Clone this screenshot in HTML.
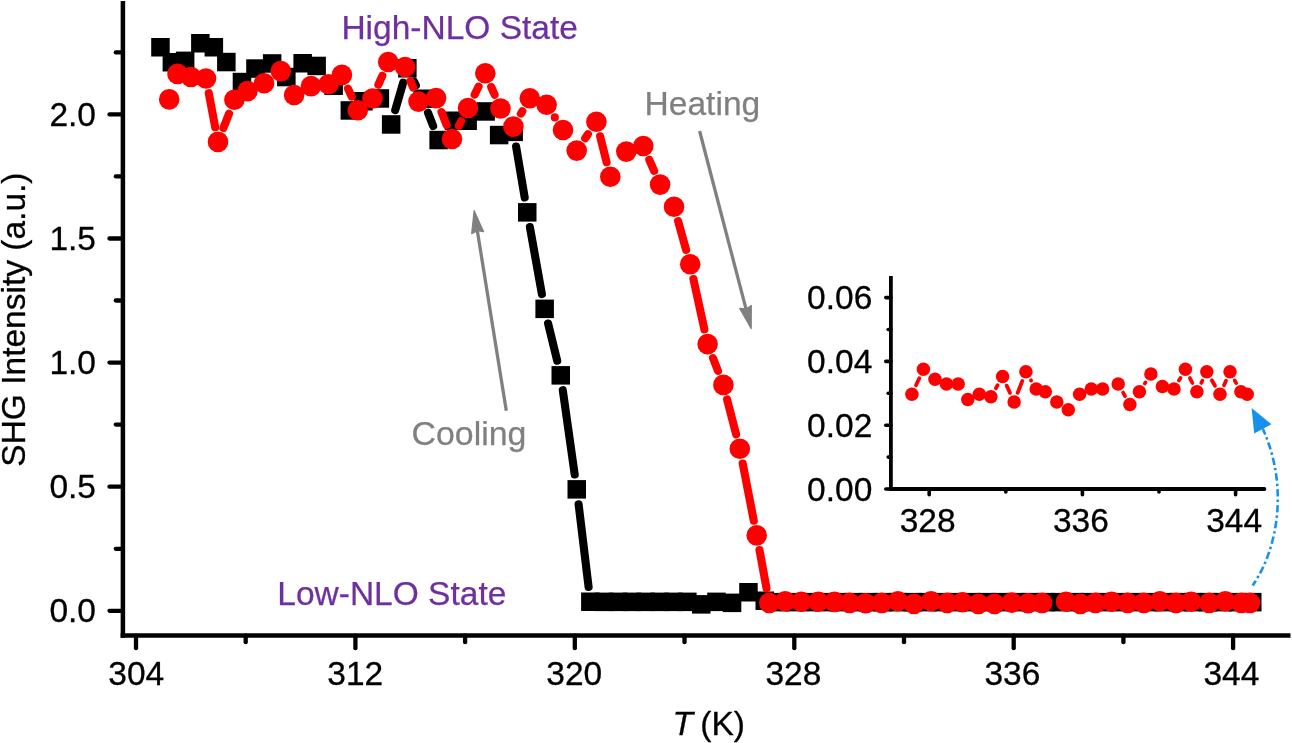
<!DOCTYPE html>
<html><head><meta charset="utf-8"><title>SHG Intensity vs T</title>
<style>html,body{margin:0;padding:0;background:#fff;}body{width:1292px;height:743px;overflow:hidden;font-family:"Liberation Sans", sans-serif;}svg{display:block;will-change:transform}</style>
</head><body>
<svg width="1292" height="743" viewBox="0 0 1292 743">
<rect width="1292" height="743" fill="#fff"/>
<g stroke="#000" stroke-width="4.5" fill="none">
<line x1="122.9" y1="1" x2="122.9" y2="637.85"/>
<line x1="120.65" y1="635.6" x2="1290.5" y2="635.6"/>
</g>
<g stroke="#000" stroke-width="4.3" stroke-linecap="round">
<line x1="109.5" y1="610.8" x2="122.9" y2="610.8"/>
<line x1="109.5" y1="486.7" x2="122.9" y2="486.7"/>
<line x1="109.5" y1="362.6" x2="122.9" y2="362.6"/>
<line x1="109.5" y1="238.5" x2="122.9" y2="238.5"/>
<line x1="109.5" y1="114.4" x2="122.9" y2="114.4"/>
<line x1="115.8" y1="548.8" x2="122.9" y2="548.8"/>
<line x1="115.8" y1="424.6" x2="122.9" y2="424.6"/>
<line x1="115.8" y1="300.5" x2="122.9" y2="300.5"/>
<line x1="115.8" y1="176.4" x2="122.9" y2="176.4"/>
<line x1="115.8" y1="52.4" x2="122.9" y2="52.4"/>
<line x1="136.0" y1="635.6" x2="136.0" y2="648.2"/>
<line x1="355.4" y1="635.6" x2="355.4" y2="648.2"/>
<line x1="574.8" y1="635.6" x2="574.8" y2="648.2"/>
<line x1="794.3" y1="635.6" x2="794.3" y2="648.2"/>
<line x1="1013.7" y1="635.6" x2="1013.7" y2="648.2"/>
<line x1="1233.1" y1="635.6" x2="1233.1" y2="648.2"/>
<line x1="245.7" y1="635.6" x2="245.7" y2="642.2"/>
<line x1="465.1" y1="635.6" x2="465.1" y2="642.2"/>
<line x1="684.5" y1="635.6" x2="684.5" y2="642.2"/>
<line x1="904.0" y1="635.6" x2="904.0" y2="642.2"/>
<line x1="1123.4" y1="635.6" x2="1123.4" y2="642.2"/>
</g>
<g font-family='"Liberation Sans", sans-serif' font-size="33.5" fill="#000" stroke="#000" stroke-width="0.3">
<text x="96" y="622.2" text-anchor="end">0.0</text>
<text x="96" y="498.1" text-anchor="end">0.5</text>
<text x="96" y="374.0" text-anchor="end">1.0</text>
<text x="96" y="249.9" text-anchor="end">1.5</text>
<text x="96" y="125.8" text-anchor="end">2.0</text>
<text x="136.3" y="685.4" text-anchor="middle">304</text>
<text x="355.3" y="685.4" text-anchor="middle">312</text>
<text x="574.3" y="685.4" text-anchor="middle">320</text>
<text x="793.4" y="685.4" text-anchor="middle">328</text>
<text x="1012.4" y="685.4" text-anchor="middle">336</text>
<text x="1231.4" y="685.4" text-anchor="middle">344</text>
<text x="672.6" y="734.8"><tspan font-style="italic">T</tspan><tspan dx="7.2">(K)</tspan></text>
<text transform="translate(25.0,319.6) rotate(-90)" text-anchor="middle">SHG Intensity (a.u.)</text>
</g>
<g font-family='"Liberation Sans", sans-serif' font-size="33.5" stroke-width="0.25">
<text x="341.4" y="38.7" fill="#6f2fa0" stroke="#6f2fa0">High-NLO State</text>
<text x="277.3" y="604.8" fill="#6f2fa0" stroke="#6f2fa0">Low-NLO State</text>
<text x="644.6" y="114.9" fill="#808080" stroke="#808080" textLength="115.6" lengthAdjust="spacingAndGlyphs">Heating</text>
<text x="411.6" y="444.7" fill="#808080" stroke="#808080" textLength="114.8" lengthAdjust="spacingAndGlyphs">Cooling</text>
</g>
<line x1="506.3" y1="410.8" x2="477.3" y2="230.6" stroke="#808080" stroke-width="3.3"/><polygon points="474.1,210.5 483.6,231.7 477.3,230.6 471.7,233.6" fill="#808080" stroke="#808080" stroke-width="1.2" stroke-linejoin="round"/>
<line x1="699.6" y1="131.0" x2="746.0" y2="308.9" stroke="#808080" stroke-width="3.3"/><polygon points="751.2,328.6 739.7,308.4 746.0,308.9 751.3,305.4" fill="#808080" stroke="#808080" stroke-width="1.2" stroke-linejoin="round"/>
<g stroke="#000" stroke-width="8.1" stroke-linecap="round"><line x1="395.2" y1="110.1" x2="403.2" y2="82.6"/><line x1="414.0" y1="81.6" x2="415.9" y2="85.3"/><line x1="428.0" y1="112.7" x2="433.2" y2="126.0"/><line x1="516.1" y1="146.6" x2="524.7" y2="197.5"/><line x1="529.9" y1="227.1" x2="541.9" y2="294.1"/><line x1="548.1" y1="323.5" x2="557.2" y2="360.7"/><line x1="562.8" y1="390.2" x2="574.7" y2="474.5"/><line x1="578.6" y1="504.3" x2="588.6" y2="586.9"/></g>
<g fill="#000"><rect x="151.2" y="38.0" width="18.5" height="18.5"/><rect x="162.6" y="53.0" width="18.5" height="18.5"/><rect x="175.9" y="51.6" width="18.5" height="18.5"/><rect x="191.1" y="34.0" width="18.5" height="18.5"/><rect x="204.6" y="38.0" width="18.5" height="18.5"/><rect x="217.1" y="52.8" width="18.5" height="18.5"/><rect x="232.7" y="72.8" width="18.5" height="18.5"/><rect x="246.2" y="59.3" width="18.5" height="18.5"/><rect x="262.9" y="54.2" width="18.5" height="18.5"/><rect x="277.1" y="67.8" width="18.5" height="18.5"/><rect x="293.4" y="54.0" width="18.5" height="18.5"/><rect x="307.4" y="56.7" width="18.5" height="18.5"/><rect x="324.4" y="76.5" width="18.5" height="18.5"/><rect x="340.6" y="101.2" width="18.5" height="18.5"/><rect x="354.2" y="92.0" width="18.5" height="18.5"/><rect x="370.6" y="89.2" width="18.5" height="18.5"/><rect x="381.9" y="115.2" width="18.5" height="18.5"/><rect x="398.1" y="59.0" width="18.5" height="18.5"/><rect x="413.4" y="89.5" width="18.5" height="18.5"/><rect x="429.4" y="130.8" width="18.5" height="18.5"/><rect x="444.8" y="111.5" width="18.5" height="18.5"/><rect x="458.4" y="111.5" width="18.5" height="18.5"/><rect x="476.4" y="102.2" width="18.5" height="18.5"/><rect x="489.9" y="125.8" width="18.5" height="18.5"/><rect x="504.4" y="122.6" width="18.5" height="18.5"/><rect x="518.0" y="203.1" width="18.5" height="18.5"/><rect x="535.4" y="299.6" width="18.5" height="18.5"/><rect x="551.5" y="366.1" width="18.5" height="18.5"/><rect x="567.5" y="480.1" width="18.5" height="18.5"/><rect x="581.1" y="592.5" width="18.5" height="18.5"/></g>
<g fill="#000"><rect x="595.0" y="592.6" width="18.5" height="18.5"/><rect x="608.9" y="592.6" width="18.5" height="18.5"/><rect x="622.7" y="592.6" width="18.5" height="18.5"/><rect x="636.5" y="592.6" width="18.5" height="18.5"/><rect x="650.4" y="592.6" width="18.5" height="18.5"/><rect x="664.2" y="592.6" width="18.5" height="18.5"/><rect x="678.1" y="592.6" width="18.5" height="18.5"/><rect x="692.0" y="595.1" width="18.5" height="18.5"/><rect x="707.2" y="592.6" width="18.5" height="18.5"/><rect x="722.8" y="593.6" width="18.5" height="18.5"/><rect x="739.2" y="583.0" width="18.5" height="18.5"/><rect x="755.5" y="591.5" width="18.5" height="18.5"/><rect x="770.3" y="592.9" width="18.5" height="18.5"/><rect x="785.1" y="592.9" width="18.5" height="18.5"/><rect x="799.9" y="592.9" width="18.5" height="18.5"/><rect x="814.6" y="592.9" width="18.5" height="18.5"/><rect x="829.4" y="592.9" width="18.5" height="18.5"/><rect x="844.2" y="592.9" width="18.5" height="18.5"/><rect x="859.0" y="592.9" width="18.5" height="18.5"/><rect x="873.7" y="592.9" width="18.5" height="18.5"/><rect x="888.5" y="592.9" width="18.5" height="18.5"/><rect x="903.3" y="592.9" width="18.5" height="18.5"/><rect x="918.0" y="592.9" width="18.5" height="18.5"/><rect x="932.8" y="592.9" width="18.5" height="18.5"/><rect x="947.6" y="592.9" width="18.5" height="18.5"/><rect x="962.4" y="592.9" width="18.5" height="18.5"/><rect x="977.1" y="592.9" width="18.5" height="18.5"/><rect x="991.9" y="592.9" width="18.5" height="18.5"/><rect x="1006.7" y="592.9" width="18.5" height="18.5"/><rect x="1021.5" y="592.9" width="18.5" height="18.5"/><rect x="1036.2" y="592.9" width="18.5" height="18.5"/><rect x="1051.0" y="592.9" width="18.5" height="18.5"/><rect x="1065.8" y="592.9" width="18.5" height="18.5"/><rect x="1080.5" y="592.9" width="18.5" height="18.5"/><rect x="1095.3" y="592.9" width="18.5" height="18.5"/><rect x="1110.1" y="592.9" width="18.5" height="18.5"/><rect x="1124.9" y="592.9" width="18.5" height="18.5"/><rect x="1139.6" y="592.9" width="18.5" height="18.5"/><rect x="1154.4" y="592.9" width="18.5" height="18.5"/><rect x="1169.2" y="592.9" width="18.5" height="18.5"/><rect x="1184.0" y="592.9" width="18.5" height="18.5"/><rect x="1198.7" y="592.9" width="18.5" height="18.5"/><rect x="1213.5" y="592.9" width="18.5" height="18.5"/><rect x="1228.3" y="592.9" width="18.5" height="18.5"/><rect x="1243.0" y="592.9" width="18.5" height="18.5"/></g>
<g stroke="#ff0000" stroke-width="8.1" stroke-linecap="round"><line x1="208.8" y1="93.2" x2="215.2" y2="127.2"/><line x1="223.4" y1="127.9" x2="229.0" y2="113.8"/><line x1="348.0" y1="88.6" x2="351.7" y2="96.6"/><line x1="378.4" y1="84.7" x2="382.3" y2="75.8"/><line x1="410.5" y1="81.0" x2="413.1" y2="87.6"/><line x1="441.5" y1="112.1" x2="446.6" y2="125.0"/><line x1="458.9" y1="125.7" x2="461.1" y2="121.3"/><line x1="474.7" y1="94.6" x2="478.6" y2="86.6"/><line x1="491.2" y1="87.0" x2="494.6" y2="94.7"/><line x1="520.9" y1="113.6" x2="522.3" y2="111.3"/><line x1="554.8" y1="117.4" x2="554.8" y2="117.4"/><line x1="585.2" y1="138.2" x2="587.9" y2="134.2"/><line x1="600.1" y1="136.3" x2="606.6" y2="162.2"/><line x1="649.3" y1="159.8" x2="654.1" y2="170.8"/><line x1="678.1" y1="221.2" x2="686.1" y2="249.9"/><line x1="693.4" y1="279.0" x2="704.4" y2="329.4"/><line x1="713.0" y1="358.1" x2="718.0" y2="370.9"/><line x1="727.1" y1="399.4" x2="736.1" y2="434.3"/><line x1="742.7" y1="463.5" x2="753.8" y2="520.7"/><line x1="759.5" y1="550.1" x2="766.5" y2="588.2"/></g>
<g fill="#ff0000"><circle cx="169.2" cy="99.4" r="10.3"/><circle cx="177.5" cy="73.9" r="10.3"/><circle cx="191.0" cy="77.0" r="10.3"/><circle cx="206.0" cy="78.5" r="10.3"/><circle cx="218.0" cy="141.9" r="10.3"/><circle cx="234.4" cy="99.8" r="10.3"/><circle cx="247.5" cy="91.1" r="10.3"/><circle cx="264.1" cy="83.2" r="10.3"/><circle cx="280.8" cy="71.1" r="10.3"/><circle cx="294.1" cy="95.0" r="10.3"/><circle cx="311.0" cy="86.1" r="10.3"/><circle cx="328.5" cy="84.3" r="10.3"/><circle cx="341.9" cy="74.9" r="10.3"/><circle cx="357.8" cy="110.3" r="10.3"/><circle cx="372.5" cy="98.5" r="10.3"/><circle cx="388.2" cy="62.0" r="10.3"/><circle cx="405.1" cy="67.0" r="10.3"/><circle cx="418.5" cy="101.6" r="10.3"/><circle cx="436.1" cy="98.1" r="10.3"/><circle cx="452.0" cy="139.0" r="10.3"/><circle cx="468.0" cy="108.0" r="10.3"/><circle cx="485.3" cy="73.2" r="10.3"/><circle cx="500.5" cy="108.5" r="10.3"/><circle cx="513.4" cy="126.6" r="10.3"/><circle cx="529.8" cy="98.3" r="10.3"/><circle cx="546.6" cy="104.8" r="10.3"/><circle cx="563.0" cy="130.0" r="10.3"/><circle cx="576.7" cy="150.6" r="10.3"/><circle cx="596.4" cy="121.8" r="10.3"/><circle cx="610.3" cy="176.7" r="10.3"/><circle cx="626.3" cy="151.6" r="10.3"/><circle cx="643.3" cy="146.0" r="10.3"/><circle cx="660.1" cy="184.6" r="10.3"/><circle cx="674.0" cy="206.8" r="10.3"/><circle cx="690.2" cy="264.3" r="10.3"/><circle cx="707.6" cy="344.1" r="10.3"/><circle cx="723.4" cy="384.9" r="10.3"/><circle cx="739.8" cy="448.8" r="10.3"/><circle cx="756.7" cy="535.4" r="10.3"/><circle cx="769.3" cy="602.9" r="10.3"/></g>
<g fill="#ff0000"><circle cx="785.2" cy="601.3" r="10.3"/><circle cx="801.3" cy="601.7" r="10.3"/><circle cx="818.4" cy="601.7" r="10.3"/><circle cx="834.5" cy="601.9" r="10.3"/><circle cx="849.6" cy="602.9" r="10.3"/><circle cx="865.7" cy="603.3" r="10.3"/><circle cx="881.8" cy="602.9" r="10.3"/><circle cx="897.9" cy="601.3" r="10.3"/><circle cx="914.0" cy="603.9" r="10.3"/><circle cx="931.1" cy="601.3" r="10.3"/><circle cx="947.2" cy="602.9" r="10.3"/><circle cx="962.3" cy="602.3" r="10.3"/><circle cx="978.4" cy="603.9" r="10.3"/><circle cx="994.5" cy="603.9" r="10.3"/><circle cx="1011.8" cy="602.6" r="10.3"/><circle cx="1028.1" cy="603.3" r="10.3"/><circle cx="1042.1" cy="602.9" r="10.3"/><circle cx="1066.0" cy="601.7" r="10.3"/><circle cx="1080.4" cy="603.9" r="10.3"/><circle cx="1095.5" cy="602.9" r="10.3"/><circle cx="1111.6" cy="601.7" r="10.3"/><circle cx="1127.7" cy="602.9" r="10.3"/><circle cx="1143.8" cy="602.9" r="10.3"/><circle cx="1159.9" cy="601.3" r="10.3"/><circle cx="1176.0" cy="602.9" r="10.3"/><circle cx="1191.1" cy="601.7" r="10.3"/><circle cx="1209.2" cy="602.9" r="10.3"/><circle cx="1225.3" cy="601.3" r="10.3"/><circle cx="1241.4" cy="602.9" r="10.3"/><circle cx="1250.0" cy="602.9" r="10.3"/></g>
<g stroke="#000" stroke-width="3.8" fill="none">
<line x1="890.9" y1="276.0" x2="890.9" y2="490.9"/>
<line x1="890.9" y1="489.0" x2="1264.4" y2="489.0" stroke-linecap="round"/>
</g>
<g stroke="#000" stroke-width="3.6" stroke-linecap="round">
<line x1="885.8" y1="489.0" x2="890.9" y2="489.0"/>
<line x1="885.8" y1="425.2" x2="890.9" y2="425.2"/>
<line x1="885.8" y1="361.4" x2="890.9" y2="361.4"/>
<line x1="885.8" y1="297.6" x2="890.9" y2="297.6"/>
<line x1="888.2" y1="457.1" x2="890.9" y2="457.1"/>
<line x1="888.2" y1="393.3" x2="890.9" y2="393.3"/>
<line x1="888.2" y1="329.5" x2="890.9" y2="329.5"/>
<line x1="929.2" y1="489.0" x2="929.2" y2="494.7"/>
<line x1="1082.4" y1="489.0" x2="1082.4" y2="494.7"/>
<line x1="1235.6" y1="489.0" x2="1235.6" y2="494.7"/>
<line x1="1005.8" y1="489.0" x2="1005.8" y2="492.0"/>
<line x1="1159.0" y1="489.0" x2="1159.0" y2="492.0"/>
</g>
<g font-family='"Liberation Sans", sans-serif' font-size="33.5" fill="#000" stroke="#000" stroke-width="0.3">
<text x="872.3" y="500.5" text-anchor="end">0.00</text>
<text x="872.3" y="436.7" text-anchor="end">0.02</text>
<text x="872.3" y="372.9" text-anchor="end">0.04</text>
<text x="872.3" y="309.1" text-anchor="end">0.06</text>
<text x="927.7" y="532.2" text-anchor="middle">328</text>
<text x="1080.9" y="532.2" text-anchor="middle">336</text>
<text x="1234.1" y="532.2" text-anchor="middle">344</text>
</g>
<g stroke="#ff0000" stroke-width="3.8" stroke-linecap="round"><line x1="916.0" y1="385.3" x2="919.3" y2="378.3"/><line x1="995.9" y1="388.2" x2="997.6" y2="385.2"/><line x1="1006.7" y1="385.6" x2="1010.0" y2="392.9"/><line x1="1017.7" y1="392.7" x2="1022.3" y2="381.0"/><line x1="1031.0" y1="380.3" x2="1031.1" y2="380.6"/><line x1="1123.1" y1="392.6" x2="1125.0" y2="396.0"/><line x1="1144.8" y1="383.5" x2="1145.5" y2="382.4"/><line x1="1178.9" y1="380.5" x2="1180.5" y2="377.9"/><line x1="1189.9" y1="378.1" x2="1192.4" y2="383.0"/><line x1="1201.3" y1="382.9" x2="1202.4" y2="380.7"/><line x1="1211.8" y1="380.3" x2="1215.0" y2="385.8"/><line x1="1224.0" y1="385.3" x2="1226.0" y2="380.8"/><line x1="1234.7" y1="380.5" x2="1236.2" y2="383.1"/></g>
<g fill="#ff0000"><circle cx="911.9" cy="394.3" r="6.75"/><circle cx="923.4" cy="369.3" r="6.75"/><circle cx="935.0" cy="379.3" r="6.75"/><circle cx="946.5" cy="384.0" r="6.75"/><circle cx="958.2" cy="384.0" r="6.75"/><circle cx="967.8" cy="399.4" r="6.75"/><circle cx="979.3" cy="394.3" r="6.75"/><circle cx="990.9" cy="396.8" r="6.75"/><circle cx="1002.6" cy="376.6" r="6.75"/><circle cx="1014.1" cy="401.9" r="6.75"/><circle cx="1025.9" cy="371.8" r="6.75"/><circle cx="1036.2" cy="389.1" r="6.75"/><circle cx="1045.3" cy="391.8" r="6.75"/><circle cx="1056.8" cy="401.9" r="6.75"/><circle cx="1068.3" cy="409.7" r="6.75"/><circle cx="1079.6" cy="394.3" r="6.75"/><circle cx="1091.3" cy="389.1" r="6.75"/><circle cx="1102.6" cy="389.1" r="6.75"/><circle cx="1118.2" cy="384.0" r="6.75"/><circle cx="1129.9" cy="404.6" r="6.75"/><circle cx="1139.4" cy="391.8" r="6.75"/><circle cx="1150.9" cy="374.1" r="6.75"/><circle cx="1162.4" cy="386.6" r="6.75"/><circle cx="1174.0" cy="389.1" r="6.75"/><circle cx="1185.4" cy="369.3" r="6.75"/><circle cx="1196.9" cy="391.8" r="6.75"/><circle cx="1206.8" cy="371.8" r="6.75"/><circle cx="1220.0" cy="394.3" r="6.75"/><circle cx="1230.0" cy="371.8" r="6.75"/><circle cx="1240.9" cy="391.8" r="6.75"/><circle cx="1247.2" cy="394.3" r="6.75"/></g>
<path d="M1262.8,428.8 C1288.9,486.4 1277.9,548.9 1252.7,585.4" fill="none" stroke="#1791ec" stroke-width="2.6" stroke-dasharray="7.4 3 2.5 3" stroke-dashoffset="1.2"/>
<polygon points="1251.6,407.9 1271.4,424.2 1254.2,433.4" fill="#1791ec"/>
</svg>
</body></html>
